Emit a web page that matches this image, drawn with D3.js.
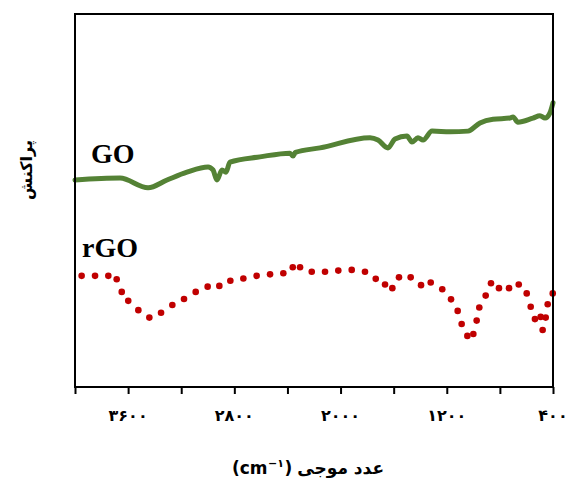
<!DOCTYPE html>
<html>
<head>
<meta charset="utf-8">
<script src="https://cdn.jsdelivr.net/npm/d3@7/dist/d3.min.js"></script>
<style>
  html, body { margin: 0; padding: 0; background: #ffffff; }
  svg { display: block; }
</style>
</head>
<body>
<div id="chart"></div>
<script>
// ---- data ----
const goWavenumber = [4000, 3661, 3450, 3307, 3157, 2998, 2961, 2931, 2893, 2863, 2833, 2607, 2381, 2358, 2340, 2155, 1778, 1718, 1643, 1590, 1500, 1462, 1417, 1379, 1311, 1176, 1040, 950, 852, 724, 701, 664, 551, 498, 460, 423, 400];
const goValue      = [55.5, 56.0, 53.4, 55.5, 57.6, 59.0, 58.2, 55.5, 58.2, 57.6, 60.3, 61.7, 62.7, 61.9, 62.9, 64.1, 66.8, 66.2, 64.1, 66.5, 67.3, 65.7, 66.8, 66.2, 68.6, 68.4, 68.6, 70.8, 71.8, 72.1, 72.4, 71.0, 72.1, 72.7, 72.1, 73.5, 76.2];

const rgoWavenumber = [3950, 3849, 3749, 3686, 3648, 3599, 3523, 3440, 3352, 3267, 3179, 3091, 3001, 2913, 2830, 2732, 2632, 2531, 2431, 2360, 2305, 2217, 2117, 2017, 1916, 1816, 1735, 1665, 1610, 1560, 1472, 1394, 1321, 1234, 1168, 1118, 1088, 1045, 1000, 975, 955, 907, 867, 807, 731, 658, 598, 568, 536, 493, 478, 455, 440, 402];
const rgoValue      = [29.8, 29.8, 29.8, 28.9, 25.5, 23.1, 20.6, 18.6, 19.9, 22.0, 23.6, 25.5, 26.9, 27.1, 28.5, 29.1, 29.8, 30.2, 30.5, 32.1, 32.1, 30.9, 30.9, 31.2, 31.4, 30.9, 29.0, 27.5, 26.5, 29.4, 29.4, 27.3, 28.0, 26.2, 23.5, 20.4, 16.9, 13.7, 14.2, 17.8, 21.3, 24.5, 27.8, 26.5, 26.5, 27.5, 25.1, 21.5, 18.2, 18.8, 15.3, 18.6, 22.2, 25.1];

const xTicks      = [4000, 3600, 3200, 2800, 2400, 2000, 1600, 1200, 800, 400];
const labelTicks  = [3600, 2800, 2000, 1200, 400];
const tickLabels  = ["۳۶۰۰", "۲۸۰۰", "۲۰۰۰", "۱۲۰۰", "۴۰۰"];
const seriesNames = ["GO", "rGO"];
const xTitleWords = "عدد موجی";
const xTitleUnit = "(cm";
const xTitleSup = "−۱";
const xTitleClose = ")";
const yTitle = "پراکنش";

// ---- layout ----
const W = 573, H = 482;
const mLeft = 75, mRight = 553, mTop = 14, mBottom = 387;

const svg = d3.select("#chart").append("svg")
  .attr("width", W).attr("height", H);

const x = d3.scaleLinear().domain([4000, 400]).range([mLeft, mRight]);
const y = d3.scaleLinear().domain([0, 100]).range([mBottom, mTop]);

const go = goWavenumber.map((w, i) => ({ w, v: goValue[i] }));
const rgo = rgoWavenumber.map((w, i) => ({ w, v: rgoValue[i] }));

// GO line
const line = d3.line().x(d => x(d.w)).y(d => y(d.v)).curve(d3.curveMonotoneX);
svg.append("path")
  .datum(go)
  .attr("d", line)
  .attr("fill", "none")
  .attr("stroke", "#548235")
  .attr("stroke-width", 5)
  .attr("stroke-linejoin", "round")
  .attr("stroke-linecap", "round");

// rGO dotted series
svg.append("g").selectAll("circle")
  .data(rgo)
  .enter().append("circle")
  .attr("cx", d => x(d.w))
  .attr("cy", d => y(d.v))
  .attr("r", 3.3)
  .attr("fill", "#c00000");

// frame
svg.append("rect")
  .attr("x", mLeft).attr("y", mTop)
  .attr("width", mRight - mLeft).attr("height", mBottom - mTop)
  .attr("fill", "none").attr("stroke", "#000").attr("stroke-width", 2);

// x axis ticks
const axis = d3.axisBottom(x)
  .tickValues(xTicks)
  .tickSize(7)
  .tickFormat("");
const gx = svg.append("g").attr("transform", `translate(0,${mBottom})`).call(axis);
gx.select(".domain").remove();
gx.selectAll(".tick line").attr("stroke", "#000").attr("stroke-width", 2);

// tick labels
svg.append("g").selectAll("text")
  .data(labelTicks)
  .enter().append("text")
  .attr("x", d => x(d))
  .attr("y", 421)
  .attr("text-anchor", "middle")
  .attr("font-family", "DejaVu Sans")
  .attr("font-weight", "bold")
  .attr("font-size", 16)
  .attr("letter-spacing", 2)
  .text((d, i) => tickLabels[i]);

// series labels
svg.append("text")
  .attr("x", 91).attr("y", 163)
  .attr("font-family", "Liberation Serif")
  .attr("font-weight", "bold")
  .attr("font-size", 28)
  .text(seriesNames[0]);
svg.append("text")
  .attr("x", 82).attr("y", 257)
  .attr("font-family", "Liberation Serif")
  .attr("font-weight", "bold")
  .attr("font-size", 28)
  .text(seriesNames[1]);

// x title, laid out piece by piece (visual order left to right)
const tg = svg.append("g")
  .attr("font-family", "DejaVu Sans")
  .attr("font-weight", "bold");
const pieces = [
  { t: xTitleUnit, size: 17, dy: 0, gap: 0 },
  { t: xTitleSup, size: 11, dy: -7, gap: 0.5 },
  { t: xTitleClose, size: 17, dy: 0, gap: 0.5 },
  { t: xTitleWords, size: 17, dy: 0, gap: 5, rtl: true }
];
const baseY = 474;
const nodes = pieces.map(p => {
  const n = tg.append("text")
    .attr("y", baseY + p.dy)
    .attr("font-size", p.size)
    .attr("direction", p.rtl ? "rtl" : null)
    .attr("text-anchor", p.rtl ? "end" : "start")
    .text(p.t);
  return { n, w: n.node().getComputedTextLength(), p };
});
const total = d3.sum(nodes, d => d.w + d.p.gap);
let cx = 308 - total / 2;
nodes.forEach(d => {
  cx += d.p.gap;
  d.n.attr("x", cx);
  cx += d.w;
});

// y title
svg.append("text")
  .attr("transform", "translate(32,170) rotate(-90)")
  .attr("text-anchor", "middle")
  .attr("direction", "rtl")
  .attr("font-family", "DejaVu Sans")
  .attr("font-weight", "bold")
  .attr("font-size", 16)
  .text(yTitle);
</script>
</body>
</html>
